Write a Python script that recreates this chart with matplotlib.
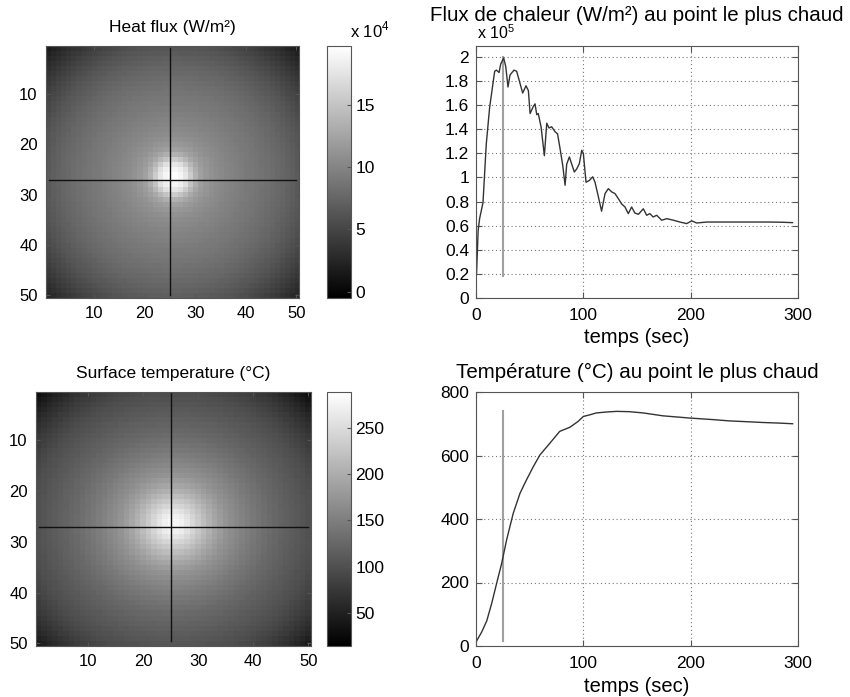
import numpy as np
import matplotlib
matplotlib.use('Agg')
import matplotlib.pyplot as plt

plt.rcParams['font.family'] = ['Liberation Sans', 'DejaVu Sans']
plt.rcParams['mathtext.fontset'] = 'custom'
plt.rcParams['mathtext.rm'] = 'Liberation Sans'

# ---------------- data ----------------
# heat flux at hottest point (x 1e5 W/m2) vs time (s)
flux_t = [0.5, 2, 3.4, 6.5, 9.6, 12.7, 17.4, 19, 21.5, 23, 25.8, 27.7, 29.8, 31.7, 35.4, 37.9,
          41, 43.5, 46.6, 48.8, 50.4, 53.5, 55, 56.6, 58, 60.6, 63.7, 65.9, 68, 70.5, 73.6, 76,
          78.3, 80.8, 83, 84.5, 87, 89, 91.6, 93.8, 96.3, 98.5, 100, 102.5, 105.6, 108.7, 110.9,
          114, 117, 120.2, 123.3, 126.4, 129.5, 132.6, 135.7, 138.8, 141.9, 145, 148, 151.3,
          155.9, 159, 162, 165, 168.4, 173, 177.7, 184, 190, 196.3, 201, 205.6, 214.9, 230,
          252, 273.9, 286, 294.9]
flux_v = [0.20, 0.56, 0.66, 0.79, 1.28, 1.58, 1.88, 1.89, 1.87, 1.94, 1.99, 1.92, 1.75, 1.85,
          1.89, 1.88, 1.78, 1.70, 1.76, 1.72, 1.53, 1.59, 1.61, 1.52, 1.53, 1.42, 1.18, 1.45,
          1.41, 1.42, 1.38, 1.36, 1.24, 1.10, 0.935, 1.11, 1.17, 1.115, 1.045, 1.07, 1.115,
          1.225, 1.20, 0.96, 0.975, 1.005, 0.96, 0.84, 0.72, 0.866, 0.907, 0.88, 0.866, 0.824,
          0.78, 0.755, 0.70, 0.755, 0.705, 0.694, 0.74, 0.686, 0.70, 0.672, 0.686, 0.645,
          0.658, 0.645, 0.63, 0.617, 0.64, 0.622, 0.63, 0.63, 0.63, 0.63, 0.628, 0.625]

# temperature at hottest point (deg C) vs time (s)
temp_t = [0.6, 5.3, 10, 14.6, 19.2, 23.9, 28.5, 34.7, 41, 47, 53.4, 59.6, 68.9, 78, 87.5, 95,
          100, 106, 112, 121.6, 131, 143, 156, 174, 199, 221, 236, 255, 267, 283, 295]
temp_v = [16, 44, 79, 134, 197, 260, 334, 418, 481, 523, 565, 602, 639, 676, 689, 707,
          723, 728, 734, 737, 739, 738, 734, 725, 718, 713, 709, 706, 704, 702, 700]

# snapshot time marker
t_mark = 25
flux_mark = [0.18, 2.0]
temp_mark = [15, 740]

# radial profiles of the maps around the hot spot
hot_x, hot_y = 25.5, 26.5
flux_r = [0, 1, 2, 3, 4, 5, 6, 8, 10, 14, 18, 22, 26, 30, 34, 37]
flux_map_v = [19.6, 19.3, 18.5, 17.0, 14.5, 12.8, 11.8, 10.8, 10.2, 9.3, 8.5, 7.5, 6.2,
              4.5, 2.5, 0.5]
temp_r = [0, 2, 4, 6, 8, 10, 14, 18, 22, 26, 30, 33, 36]
temp_map_v = [285, 270, 240, 212, 188, 170, 146, 127, 112, 97, 75, 52, 22]

cross_x, cross_y = 25, 27

flux_cticks = [0, 5, 10, 15]
temp_cticks = [50, 100, 150, 200, 250]
map_ticks = [10, 20, 30, 40, 50]

# ---------------- figure ----------------
W, H = 850, 697
fig = plt.figure(figsize=(W / 100, H / 100), dpi=100)


def ax_px(x0, y0, x1, y1):
    return fig.add_axes([x0 / W, 1 - y1 / H, (x1 - x0) / W, (y1 - y0) / H])


spine_col = '#555555'
ii = np.arange(1, 51)
XX, YY = np.meshgrid(ii, ii)
RR = np.hypot(XX - hot_x, YY - hot_y)
flux_img = np.interp(RR, flux_r, flux_map_v)
temp_img = np.interp(RR, temp_r, temp_map_v)


def style_map(ax, title, pad):
    ax.set_xticks(map_ticks)
    ax.set_yticks(map_ticks)
    ax.tick_params(direction='in', top=True, right=True, length=3, labelsize=12,
                   color=spine_col, pad=6)
    for s in ax.spines.values():
        s.set_color(spine_col)
    ax.set_title(title, fontsize=12.5, pad=pad)


def style_cbar(cax, cb):
    cax.tick_params(direction='in', right=True, left=False, length=3, labelsize=12.5,
                    color=spine_col, pad=3)
    cb.outline.set_edgecolor(spine_col)


# top-left: heat flux map
ax1 = ax_px(46, 46, 299, 298)
im1 = ax1.imshow(flux_img, cmap='gray', vmin=-0.5, vmax=19.7, extent=(0.5, 50.5, 50.5, 0.5),
                 aspect='auto', interpolation='nearest')
ax1.plot([cross_x, cross_x], [0.8, 50], color='#111111', lw=1)
ax1.plot([1, 50], [cross_y, cross_y], color='#111111', lw=1)
style_map(ax1, 'Heat flux (W/m²)', 10)
cax1 = ax_px(327, 46, 351, 298)
cb1 = fig.colorbar(im1, cax=cax1, ticks=flux_cticks)
style_cbar(cax1, cb1)
fig.text(350 / W, 1 - 37 / H, r'x 10$^{\mathrm{4}}$', fontsize=12, ha='left', va='baseline')

# bottom-left: temperature map
ax3 = ax_px(36, 392, 311, 646)
im3 = ax3.imshow(temp_img, cmap='gray', vmin=14, vmax=289, extent=(0.5, 50.5, 50.5, 0.5),
                 aspect='auto', interpolation='nearest')
ax3.plot([cross_x, cross_x], [0.5, 49.5], color='#111111', lw=1)
ax3.plot([1, 50], [cross_y, cross_y], color='#111111', lw=1)
style_map(ax3, 'Surface temperature (°C)', 10)
cax3 = ax_px(327, 392, 351, 646)
cb3 = fig.colorbar(im3, cax=cax3, ticks=temp_cticks)
style_cbar(cax3, cb3)


def style_line(ax, title, pad):
    ax.set_xlim(0, 300)
    ax.set_xticks([0, 100, 200, 300])
    ax.grid(True, linestyle=(0, (1, 2.5)), color='#777777', lw=0.8)
    ax.tick_params(direction='in', top=True, right=True, length=4, labelsize=12.5,
                   color=spine_col, pad=5)
    ax.tick_params(axis='x', pad=7)
    for s in ax.spines.values():
        s.set_color(spine_col)
    ax.set_title(title, fontsize=14.8, pad=pad)
    ax.set_xlabel('temps (sec)', fontsize=14.5, va='center')
    ax.xaxis.set_label_coords(0.5, -0.158)


# top-right: heat flux curve
ax2 = ax_px(476, 46, 798, 298)
ax2.plot([t_mark, t_mark], flux_mark, color='#a0a0a0', lw=1.5)
ax2.plot(flux_t, flux_v, color='#333333', lw=1)
ax2.set_ylim(0, 2.09)
ax2.set_yticks(np.arange(0, 2.01, 0.2))
ax2.set_yticklabels(['0', '0.2', '0.4', '0.6', '0.8', '1', '1.2', '1.4', '1.6', '1.8', '2'])
style_line(ax2, 'Flux de chaleur (W/m²) au point le plus chaud', 18)
fig.text(477 / W, 1 - 39 / H, r'x 10$^{\mathrm{5}}$', fontsize=11.5, ha='left', va='baseline')

# bottom-right: temperature curve
ax4 = ax_px(476, 392, 798, 646)
ax4.plot([t_mark, t_mark], temp_mark, color='#a0a0a0', lw=1.5)
ax4.plot(temp_t, temp_v, color='#333333', lw=1)
ax4.set_ylim(0, 800)
ax4.set_yticks([0, 200, 400, 600, 800])
style_line(ax4, 'Température (°C) au point le plus chaud', 10)

fig.savefig('out.png', dpi=100)
